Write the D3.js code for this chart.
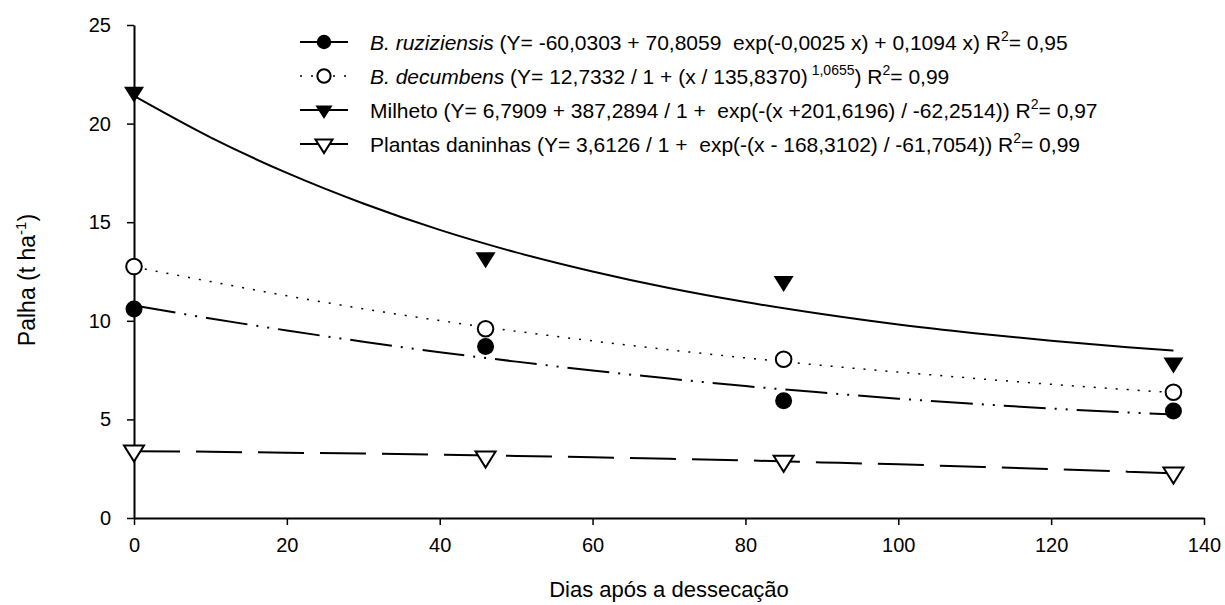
<!DOCTYPE html>
<html>
<head>
<meta charset="utf-8">
<script src="https://cdn.jsdelivr.net/npm/d3@7"></script>
<style>
  body { margin: 0; background: #fff; }
  svg { display: block; font-family: "Liberation Sans", Arial, sans-serif; }
</style>
</head>
<body>
<div id="chart"></div>
<script>
///////////////////////////////////////////////
// Data ///////////////////////////////////////
///////////////////////////////////////////////

// observed days after desiccation
var days = [0, 46, 85, 136];

var ruziziensis = [10.6, 8.7, 5.95, 5.43];
var decumbens   = [12.75, 9.6, 8.05, 6.38];
var milheto     = [21.6, 13.2, 12.0, 7.87];
var daninhas    = [3.4, 3.1, 2.88, 2.29];

// fitted curves, values
var fitDays = [0, 10, 20, 30, 40, 50, 60, 70, 80, 90, 100, 110, 120, 130, 136];
var ruzFit  = [10.78, 10.12, 9.51, 8.94, 8.41, 7.93, 7.48, 7.07, 6.69, 6.36, 6.05, 5.79, 5.55, 5.35, 5.25];
var decFit  = [12.73, 11.99, 11.27, 10.61, 10.01, 9.47, 8.98, 8.53, 8.12, 7.74, 7.40, 7.08, 6.78, 6.51, 6.36];
var milFit  = [21.40, 19.30, 17.50, 15.95, 14.61, 13.47, 12.50, 11.66, 10.95, 10.34, 9.81, 9.37, 8.99, 8.66, 8.49];
var danFit  = [3.39, 3.36, 3.31, 3.27, 3.21, 3.15, 3.08, 3.00, 2.92, 2.82, 2.72, 2.60, 2.48, 2.35, 2.27];

var xTicks = [0, 20, 40, 60, 80, 100, 120, 140];
var yTicks = [0, 5, 10, 15, 20, 25];

///////////////////////////////////////////////
// Graph parameters ///////////////////////////
///////////////////////////////////////////////

var width = 1225, height = 605;
var margin = { top: 25, left: 134, right: 21, bottom: 87 };
var tickFont = 20, legendFont = 21;

var svg = d3.select("#chart").append("svg")
    .attr("width", width)
    .attr("height", height);

var x = d3.scaleLinear().domain([0, 140]).range([margin.left, width - margin.right]);
var y = d3.scaleLinear().domain([0, 25]).range([height - margin.bottom, margin.top]);

var series = [
  { name: "ruz", obs: ruziziensis, fit: ruzFit, marker: "filledCircle", dash: "42,9,2,9,2,9", width: 2, legendDash: null },
  { name: "dec", obs: decumbens, fit: decFit, marker: "openCircle", dash: "2,9", width: 1.5, legendDash: "2,9" },
  { name: "mil", obs: milheto, fit: milFit, marker: "filledTri", dash: null, width: 2, legendDash: null },
  { name: "dan", obs: daninhas, fit: danFit, marker: "openTri", dash: "46,16", width: 2, legendDash: null }
];

///////////////////////////////////////////////
// Axes ///////////////////////////////////////
///////////////////////////////////////////////

var xAxis = d3.axisBottom(x).tickValues(xTicks).tickSize(7).tickPadding(13).tickSizeOuter(0);
var yAxis = d3.axisLeft(y).tickValues(yTicks).tickSize(7).tickPadding(16).tickSizeOuter(0);

var gx = svg.append("g")
    .attr("transform", "translate(0," + y(0) + ")")
    .call(xAxis);
var gy = svg.append("g")
    .attr("transform", "translate(" + x(0) + ",0)")
    .call(yAxis);

[gx, gy].forEach(function(g) {
  g.select(".domain").attr("stroke", "#000").attr("stroke-width", 2);
  g.selectAll(".tick line").attr("stroke", "#000").attr("stroke-width", 1.5);
  g.selectAll(".tick text")
    .attr("fill", "#000")
    .style("font-size", tickFont + "px")
    .style("font-family", "Liberation Sans, Arial, sans-serif");
});

// axis titles
svg.append("text")
    .attr("x", (x(0) + x(140)) / 2)
    .attr("y", 597)
    .attr("text-anchor", "middle")
    .style("font-size", "22px")
    .text("Dias após a dessecação");

var yTitle = svg.append("text")
    .attr("transform", "translate(35,280) rotate(-90)")
    .attr("text-anchor", "middle")
    .style("font-size", "23px");
yTitle.append("tspan").text("Palha (t ha");
yTitle.append("tspan").attr("dy", -9).style("font-size", "15px").text("-1");
yTitle.append("tspan").attr("dy", 9).text(")");

///////////////////////////////////////////////
// Markers ////////////////////////////////////
///////////////////////////////////////////////

function triPath(cx, cy, s) {
  // downward triangle, centroid at (cx, cy)
  var w = 20 * s, h = 16 * s;
  return "M" + (cx - w / 2) + "," + (cy - h / 3) +
         "L" + (cx + w / 2) + "," + (cy - h / 3) +
         "L" + cx + "," + (cy + 2 * h / 3) + "Z";
}

function drawMarker(g, type, cx, cy, s) {
  if (type === "filledCircle") {
    g.append("circle").attr("cx", cx).attr("cy", cy).attr("r", 8.5 * s).attr("fill", "#000");
  } else if (type === "openCircle") {
    g.append("circle").attr("cx", cx).attr("cy", cy).attr("r", 7.8 * s)
      .attr("fill", "#fff").attr("stroke", "#000").attr("stroke-width", 2);
  } else if (type === "filledTri") {
    g.append("path").attr("d", triPath(cx, cy, s)).attr("fill", "#000");
  } else {
    g.append("path").attr("d", triPath(cx, cy, s))
      .attr("fill", "#fff").attr("stroke", "#000").attr("stroke-width", 2)
      .attr("stroke-linejoin", "miter");
  }
}

///////////////////////////////////////////////
// Lines //////////////////////////////////////
///////////////////////////////////////////////

var line = d3.line()
    .x(function(d) { return x(d[0]); })
    .y(function(d) { return y(d[1]); })
    .curve(d3.curveMonotoneX);

series.forEach(function(s) {
  svg.append("path")
    .datum(fitDays.map(function(d, i) { return [d, s.fit[i]]; }))
    .attr("fill", "none")
    .attr("stroke", "#000")
    .attr("stroke-width", s.width)
    .attr("stroke-dasharray", s.dash)
    .attr("d", line);
});

var pts = svg.append("g");
series.forEach(function(s) {
  s.obs.forEach(function(v, i) {
    drawMarker(pts, s.marker, x(days[i]), y(v), 1);
  });
});

///////////////////////////////////////////////
// Legend /////////////////////////////////////
///////////////////////////////////////////////

var legendRows = [
  [{ t: "B. ruziziensis", it: true }, { t: " (Y= -60,0303 + 70,8059  exp(-0,0025 x) + 0,1094 x) R" }, { t: "2", sup: true }, { t: "= 0,95" }],
  [{ t: "B. decumbens", it: true }, { t: " (Y= 12,7332 / 1 + (x / 135,8370)" }, { t: " 1,0655", sup: true }, { t: ") R" }, { t: "2", sup: true }, { t: "= 0,99" }],
  [{ t: "Milheto (Y= 6,7909 + 387,2894 / 1 +  exp(-(x +201,6196) / -62,2514)) R" }, { t: "2", sup: true }, { t: "= 0,97" }],
  [{ t: "Plantas daninhas (Y= 3,6126 / 1 +  exp(-(x - 168,3102) / -61,7054)) R" }, { t: "2", sup: true }, { t: "= 0,99" }]
];

var legX = 300, legY = 42, legStep = 34;

var legend = svg.append("g");
series.forEach(function(s, i) {
  var ly = legY + i * legStep;
  legend.append("line")
    .attr("x1", legX).attr("x2", legX + 48)
    .attr("y1", ly).attr("y2", ly)
    .attr("stroke", "#000")
    .attr("stroke-width", s.legendDash ? 1.5 : 2)
    .attr("stroke-dasharray", s.legendDash);
  drawMarker(legend, s.marker, legX + 24, ly, 0.85);

  var txt = legend.append("text")
    .attr("x", legX + 70)
    .attr("y", ly + 7.5)
    .style("font-size", legendFont + "px")
    .style("white-space", "pre");
  var up = 0;
  legendRows[i].forEach(function(p) {
    var ts = txt.append("tspan").text(p.t);
    if (p.it) ts.style("font-style", "italic");
    if (p.sup) {
      ts.attr("dy", -9).style("font-size", "14px");
      up = 9;
    } else if (up) {
      ts.attr("dy", up);
      up = 0;
    }
  });
});
</script>
</body>
</html>
